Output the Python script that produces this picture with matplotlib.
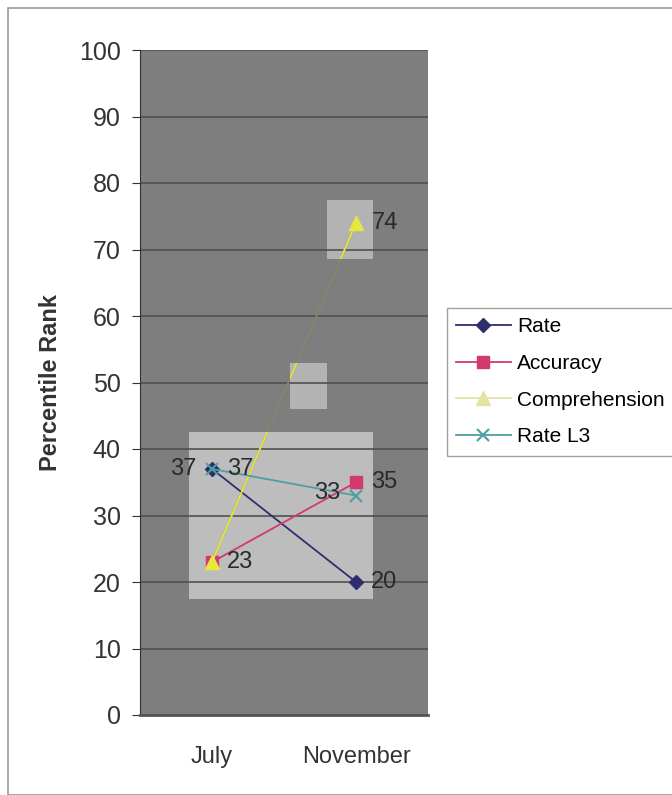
import matplotlib.pyplot as plt
from matplotlib.patches import Rectangle

months = ["July", "November"]
rate = [37, 20]
accuracy = [23, 35]
comprehension = [23, 74]
rate_l3 = [37, 33]
yticks = list(range(0, 101, 10))

plt.rcParams["font.family"] = ["Liberation Sans", "DejaVu Sans"]

fig = plt.figure(figsize=(6.72, 7.95), dpi=100)
ax = fig.add_axes([140 / 672, 1 - 715 / 795, 288 / 672, 665 / 795])
ax.set_facecolor("#7e7e7e")

# outer chart border
fig.patches.append(Rectangle((8 / 672, 0.0), 1.0, 1 - 8 / 795, transform=fig.transFigure,
                             fill=False, edgecolor="#9a9a9a", linewidth=1.2))

# light scan patches behind the lines
patches = [
    Rectangle((0.17, 0.175), 0.64, 0.25, transform=ax.transAxes,
              facecolor="#bdbdbd", edgecolor="none", zorder=0.5),
    Rectangle((0.52, 0.46), 0.13, 0.07, transform=ax.transAxes,
              facecolor="#b3b3b3", edgecolor="none", zorder=0.5),
    Rectangle((0.65, 0.685), 0.16, 0.09, transform=ax.transAxes,
              facecolor="#b3b3b3", edgecolor="none", zorder=0.5),
]
for p in patches:
    ax.add_patch(p)

x = range(len(months))
ax.plot(x, rate, color="#2e2e6e", marker="D", markersize=7, linewidth=1.3, label="Rate", zorder=3)
ax.plot(x, accuracy, color="#d23a6e", marker="s", markersize=9, linewidth=1.3, label="Accuracy", zorder=3)
# comprehension line is washed out in the scan, only visible in the light patches
ax.plot(x, comprehension, color="#86866e", linewidth=1.3, zorder=2.5)
for p in patches:
    ln, = ax.plot(x, comprehension, color="#e8e83c", marker="^", markersize=10, linewidth=1.3, zorder=3)
    ln.set_clip_path(p)
ax.plot([], [], color="#e4e4a0", marker="^", markersize=10, linewidth=1.3, label="Comprehension")
ax.plot(x, rate_l3, color="#4f9ea0", marker="x", markersize=9, markeredgewidth=1.5,
        linewidth=1.3, label="Rate L3", zorder=4)

lab = dict(fontsize=17, color="#2a2a2a", va="center", zorder=5)
ax.annotate(str(rate[0]), (0, rate[0]), xytext=(-11, 0), textcoords="offset points", ha="right", **lab)
ax.annotate(str(rate_l3[0]), (0, rate_l3[0]), xytext=(11, 0), textcoords="offset points", ha="left", **lab)
ax.annotate(str(accuracy[0]), (0, accuracy[0]), xytext=(11, 0), textcoords="offset points", ha="left", **lab)
ax.annotate(str(comprehension[1]), (1, comprehension[1]), xytext=(11, 0), textcoords="offset points", ha="left", **lab)
ax.annotate(str(accuracy[1]), (1, accuracy[1]), xytext=(11, 0), textcoords="offset points", ha="left", **lab)
ax.annotate(str(rate_l3[1]), (1, rate_l3[1]), xytext=(-11, 2), textcoords="offset points", ha="right", **lab)
ax.annotate(str(rate[1]), (1, rate[1]), xytext=(11, 0), textcoords="offset points", ha="left", **lab)

ax.set_xlim(-0.5, 1.5)
ax.set_ylim(0, 100)
ax.set_yticks(yticks)
ax.set_xticks(list(x))
ax.set_xticklabels(months)
ax.tick_params(axis="y", labelsize=18, colors="#333333", length=6, direction="out", pad=8)
ax.tick_params(axis="x", labelsize=17, colors="#333333", length=0, pad=22)
ax.grid(axis="y", color="#505050", linewidth=1.2)
ax.set_axisbelow(True)
for side in ["top", "right"]:
    ax.spines[side].set_visible(False)
ax.spines["left"].set_color("#333333")
ax.spines["bottom"].set_color("#555555")
ax.spines["bottom"].set_linewidth(2)

ax.set_ylabel("Percentile Rank", fontsize=17, fontweight="bold", color="#333333", labelpad=12)

leg = fig.legend(loc="upper left", bbox_to_anchor=(447 / 672, 1 - 308 / 795), fontsize=15,
                 frameon=True, fancybox=False, edgecolor="#888888", handlelength=2.6,
                 labelspacing=0.85, borderpad=0.45, handletextpad=0.3, borderaxespad=0)
leg.get_frame().set_linewidth(1.0)

fig.savefig("out.png", dpi=100)
